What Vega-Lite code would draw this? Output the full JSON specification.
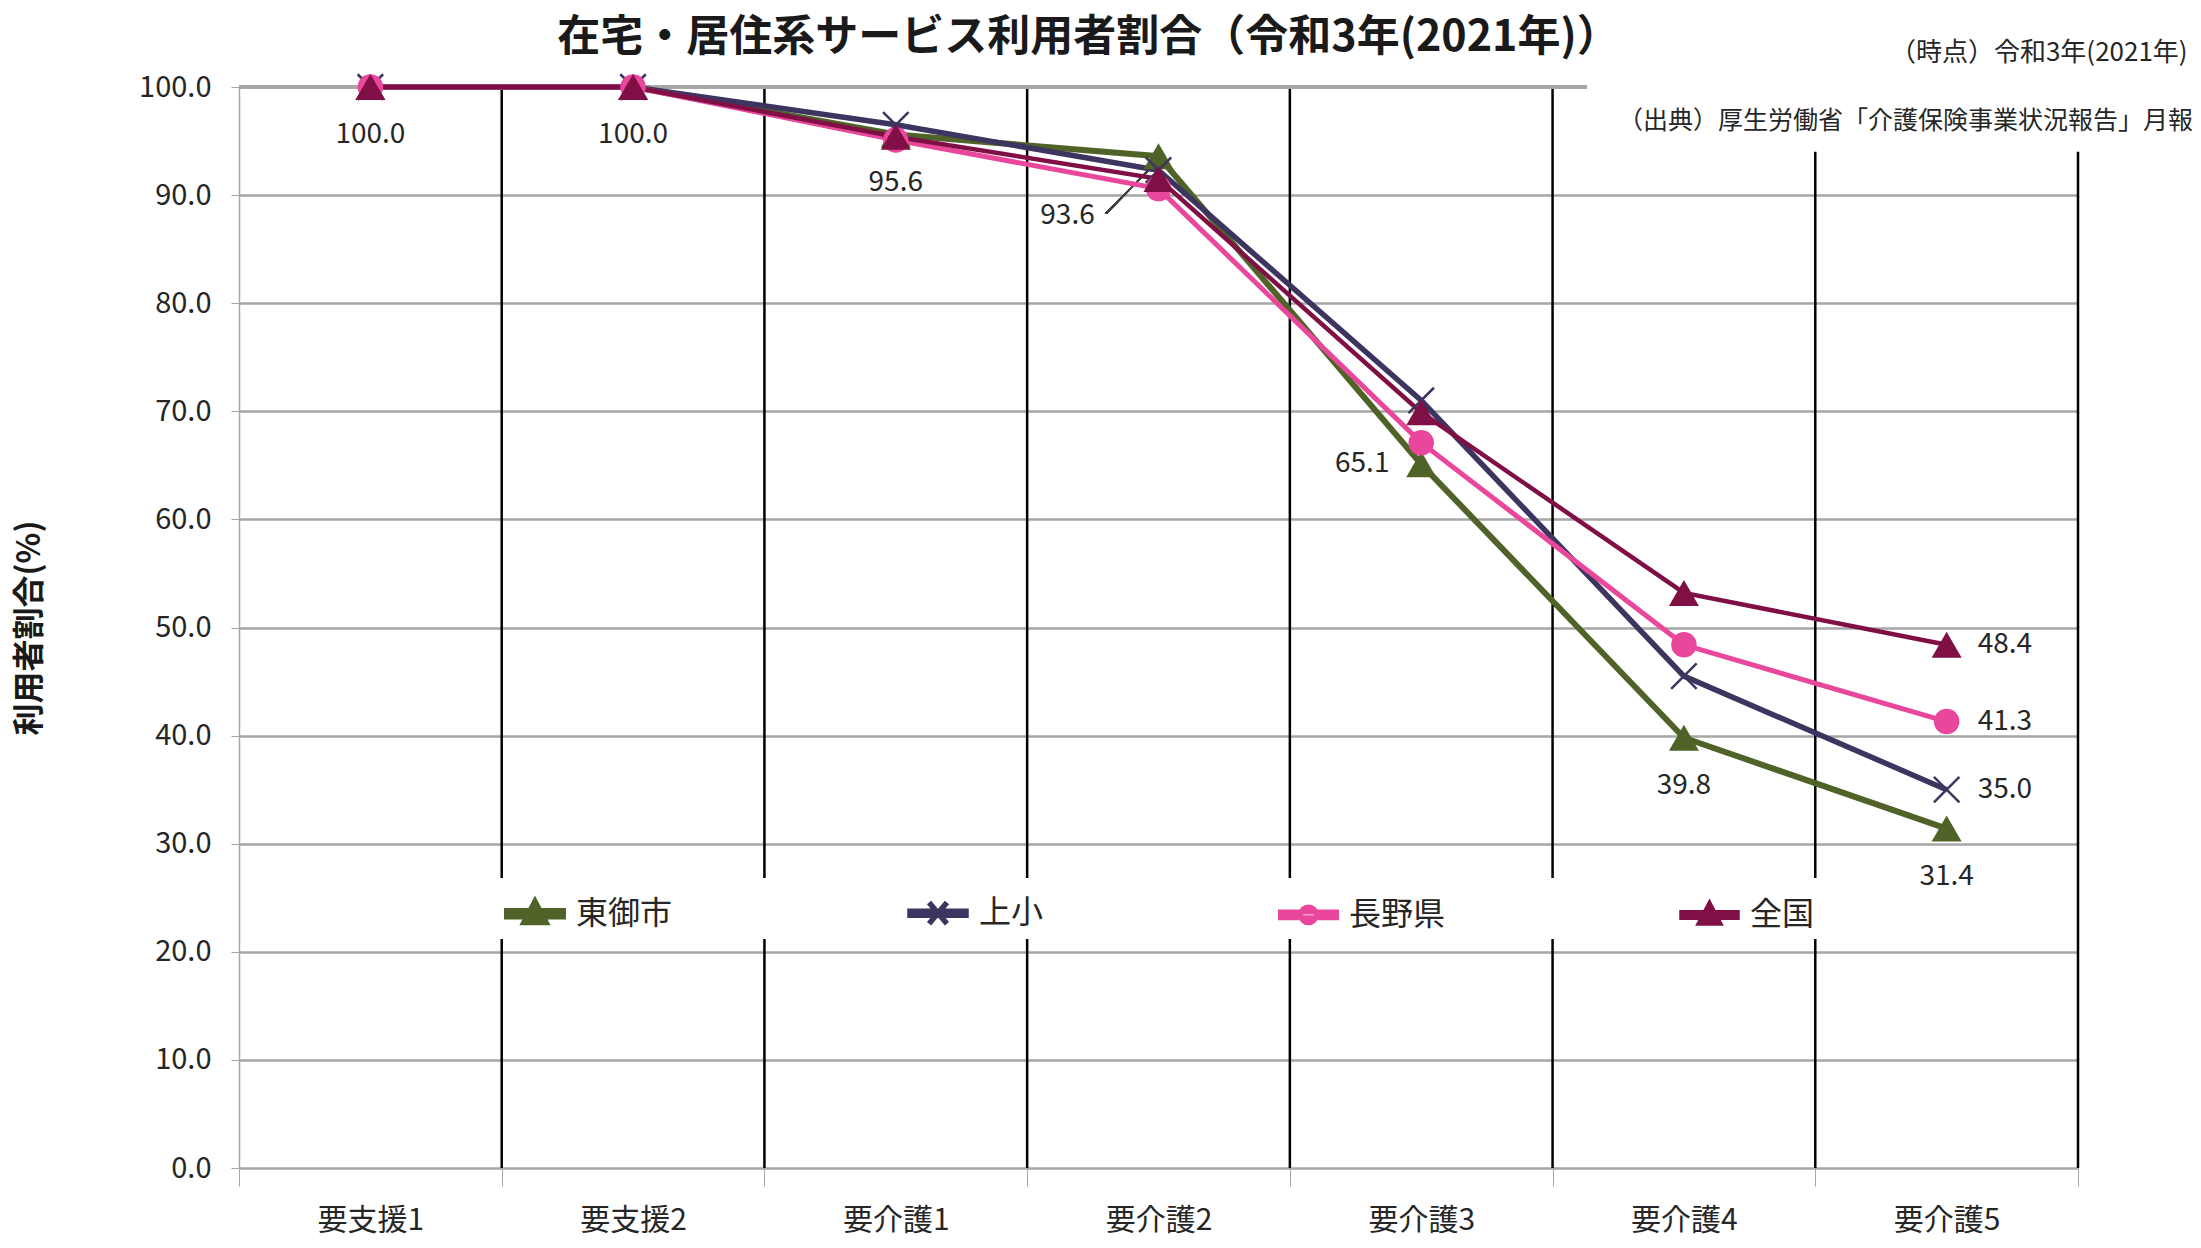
{
  "$schema": "https://vega.github.io/schema/vega-lite/v6.json",
  "width": 1839,
  "height": 1081,
  "autosize": {"type": "none"},
  "padding": {"left": 239, "top": 87, "right": 123, "bottom": 80},
  "background": "white",
  "config": {"font": "Noto Sans CJK JP", "view": {"stroke": null}},
  "title": {
    "text": "在宅・居住系サービス利用者割合（令和3年(2021年)）",
    "fontSize": 43,
    "fontWeight": "bold",
    "color": "#1a1a1a",
    "anchor": "middle",
    "dx": -70,
    "offset": -20
  },
  "data": {
    "values": [
      {"cat": "要支援1", "series": "東御市", "value": 100.0},
      {"cat": "要支援2", "series": "東御市", "value": 100.0},
      {"cat": "要介護1", "series": "東御市", "value": 95.6},
      {"cat": "要介護2", "series": "東御市", "value": 93.6},
      {"cat": "要介護3", "series": "東御市", "value": 65.1},
      {"cat": "要介護4", "series": "東御市", "value": 39.8},
      {"cat": "要介護5", "series": "東御市", "value": 31.4},
      {"cat": "要支援1", "series": "上小", "value": 100.0},
      {"cat": "要支援2", "series": "上小", "value": 100.0},
      {"cat": "要介護1", "series": "上小", "value": 96.5},
      {"cat": "要介護2", "series": "上小", "value": 92.3},
      {"cat": "要介護3", "series": "上小", "value": 71.0},
      {"cat": "要介護4", "series": "上小", "value": 45.5},
      {"cat": "要介護5", "series": "上小", "value": 35.0},
      {"cat": "要支援1", "series": "長野県", "value": 100.0},
      {"cat": "要支援2", "series": "長野県", "value": 100.0},
      {"cat": "要介護1", "series": "長野県", "value": 95.1},
      {"cat": "要介護2", "series": "長野県", "value": 90.6},
      {"cat": "要介護3", "series": "長野県", "value": 67.1},
      {"cat": "要介護4", "series": "長野県", "value": 48.4},
      {"cat": "要介護5", "series": "長野県", "value": 41.3},
      {"cat": "要支援1", "series": "全国", "value": 100.0},
      {"cat": "要支援2", "series": "全国", "value": 100.0},
      {"cat": "要介護1", "series": "全国", "value": 95.4},
      {"cat": "要介護2", "series": "全国", "value": 91.5},
      {"cat": "要介護3", "series": "全国", "value": 69.9},
      {"cat": "要介護4", "series": "全国", "value": 53.2},
      {"cat": "要介護5", "series": "全国", "value": 48.4}
    ]
  },
  "layer": [
    {
      "transform": [{"filter": "datum.series === '全国' && datum.cat !== '要支援1' && datum.cat !== '要介護5'"}],
      "mark": {"type": "rule", "color": "#000000", "strokeWidth": 2.5},
      "encoding": {
        "x": {"field": "cat", "type": "nominal", "bandPosition": 0},
        "y": {"datum": 100, "type": "quantitative"},
        "y2": {"datum": 0}
      }
    },
    {
      "transform": [{"filter": "datum.series === '全国' && datum.cat === '要介護5'"}],
      "mark": {"type": "rule", "color": "#000000", "strokeWidth": 2.5},
      "encoding": {
        "x": {"field": "cat", "type": "nominal", "bandPosition": 0},
        "y": {"datum": 94, "type": "quantitative"},
        "y2": {"datum": 0}
      }
    },
    {
      "transform": [{"filter": "datum.series === '全国' && datum.cat === '要介護5'"}],
      "mark": {"type": "rule", "color": "#000000", "strokeWidth": 2.5},
      "encoding": {
        "x": {"field": "cat", "type": "nominal", "bandPosition": 1},
        "y": {"datum": 94, "type": "quantitative"},
        "y2": {"datum": 0}
      }
    },
    {
      "mark": {"type": "rule", "color": "#A6A6A6", "strokeWidth": 2.5},
      "encoding": {
        "x": {"datum": "要支援1", "type": "nominal", "bandPosition": 0},
        "x2": {"datum": "要介護4", "bandPosition": 0.13},
        "y": {"datum": 100, "type": "quantitative"}
      }
    },
    {
      "mark": {"type": "rule", "color": "#404040", "strokeWidth": 1.5},
      "encoding": {
        "x": {"datum": "要介護2", "type": "nominal", "bandPosition": 0.3},
        "x2": {"datum": "要介護2", "bandPosition": 0.49},
        "y": {"datum": 88.3, "type": "quantitative"},
        "y2": {"datum": 93.0}
      }
    },
    {
      "mark": {"type": "line", "strokeJoin": "miter"},
      "encoding": {
        "x": {
          "field": "cat",
          "type": "nominal",
          "scale": {"domain": ["要支援1", "要支援2", "要介護1", "要介護2", "要介護3", "要介護4", "要介護5"], "paddingInner": 0, "paddingOuter": 0},
          "axis": {
            "title": null,
            "tickBand": "extent",
            "domain": false,
            "ticks": true,
            "tickSize": 18,
            "tickColor": "#A6A6A6",
            "tickWidth": 1,
            "labelFontSize": 30,
            "labelColor": "#262626",
            "labelPadding": 34,
            "labelAngle": 0,
            "labelAlign": "center",
            "grid": false
          }
        },
        "y": {
          "field": "value",
          "type": "quantitative",
          "scale": {"domain": [0, 100], "nice": false},
          "axis": {
            "values": [0, 10, 20, 30, 40, 50, 60, 70, 80, 90, 100],
            "format": ".1f",
            "title": "利用者割合(%)",
            "titleFontSize": 32,
            "titleFontWeight": "bold",
            "titleColor": "#1a1a1a",
            "titlePadding": 92,
            "labelFontSize": 29,
            "labelColor": "#262626",
            "labelPadding": 20,
            "tickSize": 8,
            "tickColor": "#A6A6A6",
            "domainColor": "#A6A6A6",
            "domainWidth": 1.5,
            "grid": true,
            "gridColor": "#A6A6A6",
            "gridWidth": 2.5,
            "gridOpacity": {"condition": {"test": "datum.value === 100", "value": 0}, "value": 1}
          }
        },
        "color": {
          "field": "series",
          "type": "nominal",
          "scale": {"domain": ["東御市", "上小", "長野県", "全国"], "range": ["#4F6228", "#3D3560", "#E8479B", "#7F0F45"]},
          "legend": {
            "orient": "none",
            "legendX": 261,
            "legendY": 791,
            "direction": "horizontal",
            "title": null,
            "fillColor": "white",
            "padding": 4,
            "columnPadding": 226,
            "labelFontSize": 32,
            "labelColor": "#262626",
            "labelOffset": 10,
            "symbolSize": 3136,
            "encode": {
              "symbols": {
                "update": {
                  "shape": {"signal": "datum.value === '上小' ? 'M-1,-0.07L1,-0.07L1,0.07L-1,0.07Z M-0.32,-0.38L0.32,0.38M0.32,-0.38L-0.32,0.38' : datum.value === '長野県' ? 'M-1,-0.1L1,-0.1L1,0.1L-1,0.1Z M-0.28,0A0.28,0.28 0 1,0 0.28,0A0.28,0.28 0 1,0 -0.28,0Z' : 'M-1,-0.1L1,-0.1L1,0.1L-1,0.1Z M0,-0.42L0.38,0.3L-0.38,0.3Z'"},
                  "fill": {"signal": "scale('color', datum.value)"},
                  "stroke": {"signal": "scale('color', datum.value)"},
                  "strokeWidth": {"value": 1.5},
                  "size": {"value": 3136},
                  "opacity": {"value": 1}
                }
              }
            }
          }
        },
        "strokeWidth": {
          "field": "series",
          "type": "nominal",
          "scale": {"domain": ["東御市", "上小", "長野県", "全国"], "range": [6, 4.5, 8, 9]},
          "legend": null
        }
      }
    },
    {
      "transform": [{"filter": "datum.series === '東御市'"}],
      "mark": {"type": "point", "shape": "triangle-up", "size": 900, "filled": true, "opacity": 1, "color": "#4F6228"},
      "encoding": {
        "x": {"field": "cat", "type": "nominal"},
        "y": {"field": "value", "type": "quantitative"}
      }
    },
    {
      "transform": [{"filter": "datum.series === '上小'"}],
      "mark": {"type": "point", "shape": "M-1,-1L1,1M1,-1L-1,1", "size": 650, "filled": false, "opacity": 1, "color": "#3D3560", "strokeWidth": 2.5},
      "encoding": {
        "x": {"field": "cat", "type": "nominal"},
        "y": {"field": "value", "type": "quantitative"}
      }
    },
    {
      "transform": [{"filter": "datum.series === '長野県'"}],
      "mark": {"type": "point", "shape": "circle", "size": 650, "filled": true, "opacity": 1, "color": "#E8479B"},
      "encoding": {
        "x": {"field": "cat", "type": "nominal"},
        "y": {"field": "value", "type": "quantitative"}
      }
    },
    {
      "transform": [{"filter": "datum.series === '全国'"}],
      "mark": {"type": "point", "shape": "triangle-up", "size": 900, "filled": true, "opacity": 1, "color": "#7F0F45"},
      "encoding": {
        "x": {"field": "cat", "type": "nominal"},
        "y": {"field": "value", "type": "quantitative"}
      }
    },
    {
      "transform": [{"filter": "datum.series === '東御市' && indexof(['要支援1','要支援2','要介護1','要介護4','要介護5'], datum.cat) >= 0"}],
      "mark": {"type": "text", "fontSize": 28, "color": "#262626", "dy": 48},
      "encoding": {
        "x": {"field": "cat", "type": "nominal"},
        "y": {"field": "value", "type": "quantitative"},
        "text": {"field": "value", "type": "quantitative", "format": ".1f"}
      }
    },
    {
      "transform": [{"filter": "datum.series === '東御市' && datum.cat === '要介護2'"}],
      "mark": {"type": "text", "fontSize": 28, "color": "#262626", "dx": -91, "dy": 60},
      "encoding": {
        "x": {"field": "cat", "type": "nominal"},
        "y": {"field": "value", "type": "quantitative"},
        "text": {"field": "value", "type": "quantitative", "format": ".1f"}
      }
    },
    {
      "transform": [{"filter": "datum.series === '東御市' && datum.cat === '要介護3'"}],
      "mark": {"type": "text", "fontSize": 28, "color": "#262626", "dx": -59, "dy": 0},
      "encoding": {
        "x": {"field": "cat", "type": "nominal"},
        "y": {"field": "value", "type": "quantitative"},
        "text": {"field": "value", "type": "quantitative", "format": ".1f"}
      }
    },
    {
      "transform": [{"filter": "datum.series !== '東御市' && datum.cat === '要介護5'"}],
      "mark": {"type": "text", "fontSize": 28, "color": "#262626", "align": "left", "dx": 31},
      "encoding": {
        "x": {"field": "cat", "type": "nominal"},
        "y": {"field": "value", "type": "quantitative"},
        "text": {"field": "value", "type": "quantitative", "format": ".1f"}
      }
    },
    {
      "data": {"values": [{"note": "（時点）令和3年(2021年)"}]},
      "mark": {"type": "text", "fontSize": 26, "color": "#262626", "align": "right", "dx": 241, "dy": -34},
      "encoding": {
        "x": {"datum": "要介護5", "type": "nominal"},
        "y": {"datum": 100, "type": "quantitative"},
        "text": {"field": "note", "type": "nominal"}
      }
    },
    {
      "data": {"values": [{"note": "（出典）厚生労働省「介護保険事業状況報告」月報"}]},
      "mark": {"type": "text", "fontSize": 25, "color": "#262626", "align": "left", "dx": -66, "dy": 34},
      "encoding": {
        "x": {"datum": "要介護4", "type": "nominal"},
        "y": {"datum": 100, "type": "quantitative"},
        "text": {"field": "note", "type": "nominal"}
      }
    }
  ]
}
